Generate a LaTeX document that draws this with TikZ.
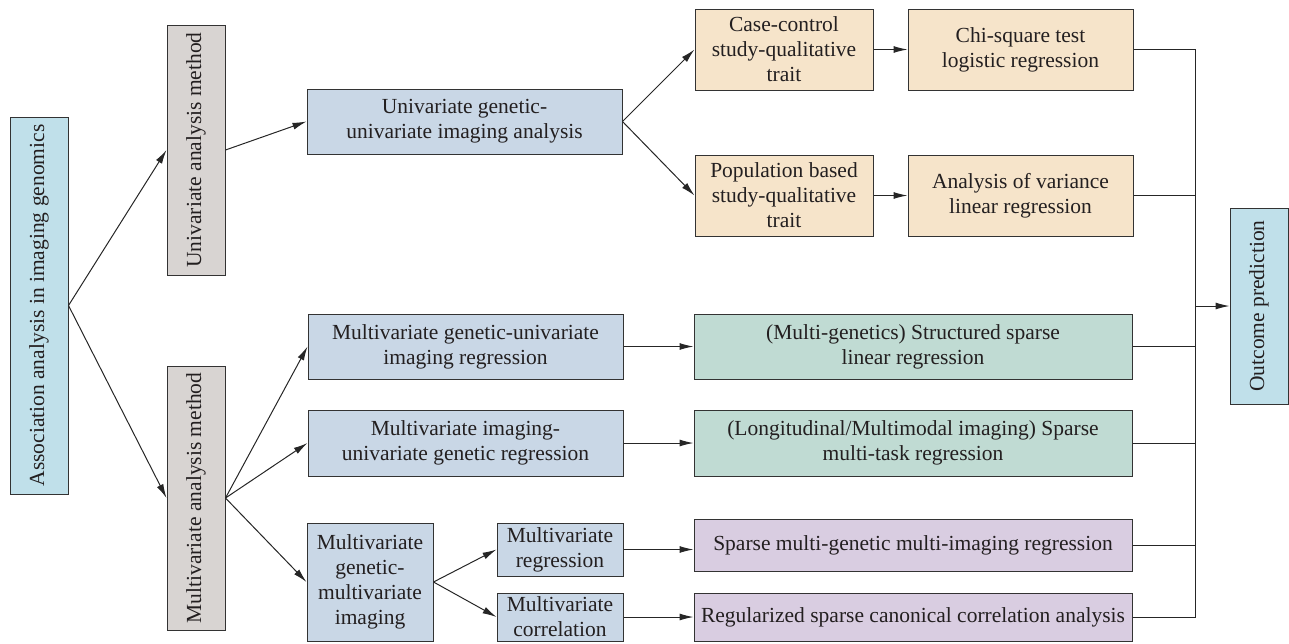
\documentclass[tikz,border=0pt]{standalone}
\usepackage{fontspec}
\setmainfont{Liberation Serif}
\usetikzlibrary{positioning}
\usetikzlibrary{arrows.meta,calc}
\definecolor{rootblue}{RGB}{192,224,234}
\definecolor{methodgray}{RGB}{216,212,210}
\definecolor{boxblue}{RGB}{201,215,230}
\definecolor{boxtan}{RGB}{246,228,202}
\definecolor{boxgreen}{RGB}{192,219,211}
\definecolor{boxpurple}{RGB}{217,205,225}
\definecolor{inkgray}{RGB}{35,31,32}
\tikzstyle{box}=[draw=black!80,line width=1pt,align=center,inner sep=2pt,text=inkgray,font=\fontsize{21.5}{25}\selectfont]
\tikzstyle{rootbox}=[box,fill=rootblue,minimum width=58pt]
\tikzstyle{methodbox}=[box,fill=methodgray,minimum width=58pt]
\tikzstyle{bluebox}=[box,fill=boxblue]
\tikzstyle{tanbox}=[box,fill=boxtan,minimum height=81pt]
\tikzstyle{greenbox}=[box,fill=boxgreen,minimum width=438pt]
\tikzstyle{purplebox}=[box,fill=boxpurple,minimum width=438pt]
\tikzstyle{link}=[-{Latex[length=14pt,width=7pt]},line width=1pt,black!85]
\tikzstyle{busline}=[line width=1pt,black!85]

\begin{document}
\begin{tikzpicture}[x=1pt,y=-1pt]
\useasboundingbox (0,0) rectangle (1289,643);

%vertical boxes
\node[rootbox,minimum height=377pt] (root) at (39,305.5) {\rotatebox{90}{Association analysis in imaging genomics}};
\node[methodbox,minimum height=250pt] (uni) at (196,150) {\rotatebox{90}{Univariate analysis method}};
\node[methodbox,minimum height=264pt] (multi) at (196,498) {\rotatebox{90}{Multivariate analysis method}};
\node[rootbox,minimum height=196pt] (out) at (1259,306) {\rotatebox{90}{Outcome prediction}};

%analysis types
\foreach \pos/\name/\w/\h/\label in {{(464.5,121.5)/ug/315/65/{Univariate genetic-\\univariate imaging analysis}},
    {(465.5,346.5)/mgur/315/65/{Multivariate genetic-univariate\\imaging regression}},
    {(465.5,443)/miug/315/66/{Multivariate imaging-\\univariate genetic regression}},
    {(370,582)/mgmi/126/118/{Multivariate\\genetic-\\multivariate\\imaging}},
    {(560,549.5)/mr/126/53/{Multivariate\\regression}},
    {(560,617)/mc/126/48/{Multivariate\\correlation}}}
    \node[bluebox,minimum width=\w pt,minimum height=\h pt] (\name) at \pos {\label};

%univariate branch
\foreach \pos/\name/\w/\label in {{(784,49.5)/cc/178/{Case-control\\study-qualitative\\trait}},
    {(1020.5,49.5)/chi/225/{Chi-square test\\logistic regression}},
    {(784,195.5)/pop/178/{Population based\\study-qualitative\\trait}},
    {(1020.5,195.5)/anova/225/{Analysis of variance\\linear regression}}}
    \node[tanbox,minimum width=\w pt] (\name) at \pos {\label};

%multivariate branch
\node[greenbox,minimum height=65pt] (struct) at (913,346.5) {(Multi-genetics) Structured sparse\\linear regression};
\node[greenbox,minimum height=66pt] (longi) at (913,443) {(Longitudinal/Multimodal imaging) Sparse\\multi-task regression};
\node[purplebox,minimum height=52pt] (smr) at (913,545) {Sparse multi-genetic multi-imaging regression};
\node[purplebox,minimum height=48pt] (rsca) at (913,617) {Regularized sparse canonical correlation analysis};

\foreach \source/\dest in {root/uni, root/multi, uni/ug, ug/cc, ug/pop, cc/chi, pop/anova,
    multi/mgur, multi/miug, multi/mgmi, mgmi/mr, mgmi/mc, mgur/struct, miug/longi, mc/rsca}
    \draw[link] (\source.east) -- (\dest.west);
\draw[link] (mr.east) -- (mr.east -| smr.west);

%outcome
\coordinate (bus) at (1195,306);
\draw[busline] (chi.east) -| (bus);
\draw[busline] (rsca.east) -| (bus);
\foreach \source in {anova, struct, longi, smr}
    \draw[busline] (\source.east) -- (\source.east -| bus);
\draw[link] (bus) -- (out.west);

\end{tikzpicture}
\end{document}
